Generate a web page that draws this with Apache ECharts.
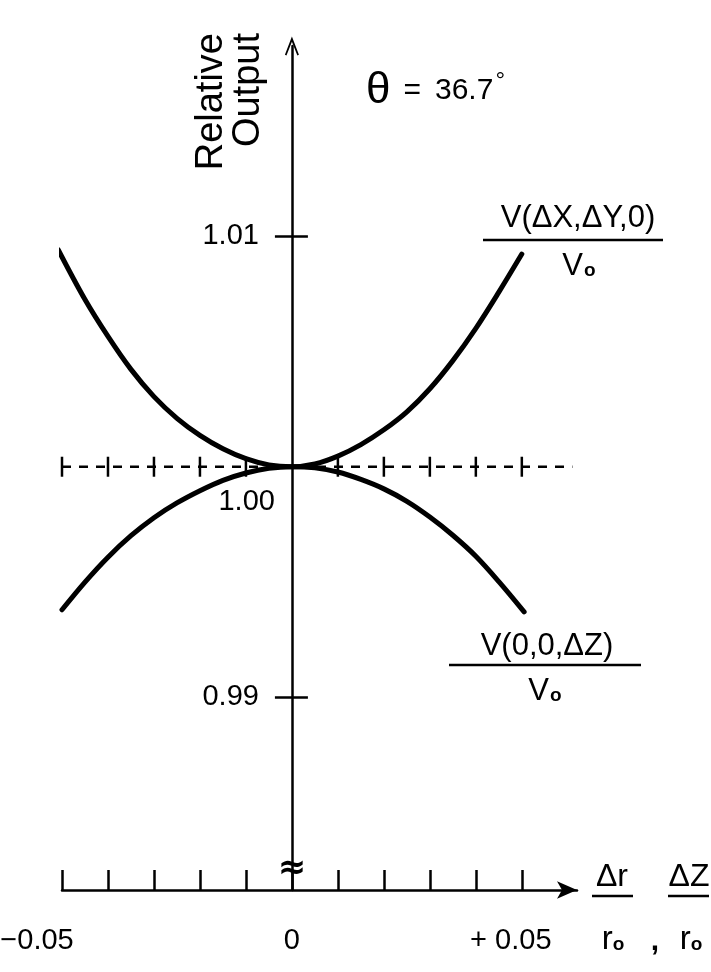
<!DOCTYPE html>
<html>
<head>
<meta charset="utf-8">
<script src="https://cdn.jsdelivr.net/npm/echarts@6/dist/echarts.min.js"></script>
<style>
  html, body { margin: 0; padding: 0; background: #fff; }
  #chart { width: 711px; height: 972px; }
</style>
</head>
<body>
<div id="chart"></div>
<script>
const FONT = '"Liberation Sans", "DejaVu Sans", sans-serif';

// Relative output V(ΔX,ΔY,0)/V0 against the radial offset Δr/r0
const radialOffset = [-0.0508, -0.045, -0.04, -0.035, -0.03, -0.025, -0.02, -0.015, -0.01, -0.005, 0,
                      0.005, 0.01, 0.015, 0.02, 0.025, 0.03, 0.035, 0.04, 0.045, 0.05];
const radialOutput = [1.0094, 1.00725, 1.00565, 1.00422, 1.00304, 1.0021, 1.00136, 1.00078, 1.00035, 1.00008, 1.0,
                      1.00012, 1.00046, 1.00096, 1.0016, 1.00238, 1.00338, 1.0046, 1.006, 1.00757, 1.00922];

// Relative output V(0,0,ΔZ)/V0 against the axial offset ΔZ/r0
const axialOffset = [-0.05, -0.045, -0.04, -0.035, -0.03, -0.025, -0.02, -0.015, -0.01, -0.005, 0,
                     0.005, 0.01, 0.015, 0.02, 0.025, 0.03, 0.035, 0.04, 0.045, 0.0505];
const axialOutput = [0.9938, 0.995, 0.99608, 0.99701, 0.99779, 0.99843, 0.99896, 0.99941, 0.99973, 0.99993, 1.0,
                     0.99995, 0.99977, 0.99945, 0.99904, 0.9985, 0.99782, 0.99703, 0.99612, 0.99502, 0.99371];

// Axis ticks and labels
const yTickValues = [0.99, 1.01];
const xTickValues = [-0.05, -0.04, -0.03, -0.02, -0.01, 0, 0.01, 0.02, 0.03, 0.04, 0.05];
const xLabelValues = [-0.05, 0, 0.05];
const xLabelText = { '-0.05': '{neg|−0.05}', '0': '{zero|0}', '0.05': '{pos|+ 0.05}' };

// Dashed reference level at 1.00 with its tick marks
const referenceLevel = 1.0;
const referenceSpan = [-0.05, 0.061];
const referenceTicks = [-0.05, -0.04, -0.03, -0.02, -0.01, 0.01, 0.02, 0.03, 0.04, 0.05];

const X_MIN = -0.05, X_MAX = 0.062;
const Y_MIN = 0.98165, Y_MAX = 1.01824;

// Plot box; the vertical axis sits where Δr/r0 = 0
const W = 711, H = 972;
const plot = { left: 62, right: 134, top: 46, bottom: 82 };
const plotWidth = W - plot.left - plot.right;
const zeroLeft = plot.left + (0 - X_MIN) / (X_MAX - X_MIN) * plotWidth;

const black = '#000';
const chart = echarts.init(document.getElementById('chart'), null, { renderer: 'canvas' });

const openArrow = 'path://M0,13 L5,0 L10,13 L8.9,13.6 L5,3.8 L1.1,13.6 Z';
const tickLine = { color: black, width: 2.5 };

const option = {
  backgroundColor: '#fff',
  animation: false,
  grid: [
    Object.assign({ containLabel: false, outerBoundsMode: 'none' }, plot),
    { left: zeroLeft, right: plot.right, top: plot.top, bottom: plot.bottom, containLabel: false, outerBoundsMode: 'none' }
  ],
  xAxis: [
    {
      gridIndex: 0, type: 'value', min: X_MIN, max: X_MAX,
      axisLine: { show: true, onZero: false, symbol: ['none', 'arrow'], symbolSize: [13, 20],
                  lineStyle: { color: black, width: 2.5 } },
      axisTick: { show: true, inside: true, length: 20, customValues: xTickValues, lineStyle: tickLine },
      axisLabel: {
        show: true, customValues: xLabelValues, margin: 36, hideOverlap: false,
        formatter: v => xLabelText[String(Math.round(v * 100) / 100)] || '',
        rich: {
          neg: { fontFamily: FONT, fontSize: 29, color: black, padding: [0, 50, 0, 0] },
          zero: { fontFamily: FONT, fontSize: 29, color: black },
          pos: { fontFamily: FONT, fontSize: 29, color: black, padding: [0, 22, 0, 0] }
        }
      },
      splitLine: { show: false }
    },
    { gridIndex: 1, type: 'value', min: 0, max: X_MAX, show: false }
  ],
  yAxis: [
    { gridIndex: 0, type: 'value', min: Y_MIN, max: Y_MAX, show: false },
    {
      gridIndex: 1, type: 'value', min: Y_MIN, max: Y_MAX, position: 'left',
      axisLine: { show: true, onZero: false, symbol: ['none', openArrow], symbolSize: [14, 24],
                  lineStyle: { color: black, width: 2.5 } },
      axisTick: { show: true, length: 17, customValues: yTickValues, lineStyle: tickLine },
      axisLabel: { show: true, customValues: yTickValues, margin: 33, hideOverlap: false,
                   formatter: v => v.toFixed(2),
                   fontFamily: FONT, fontSize: 29, color: black },
      splitLine: { show: false }
    },
    {
      gridIndex: 1, type: 'value', min: Y_MIN, max: Y_MAX, position: 'left',
      axisLine: { show: false, onZero: false },
      axisTick: { show: true, inside: true, length: 16, customValues: yTickValues, lineStyle: tickLine },
      axisLabel: { show: false },
      splitLine: { show: false }
    }
  ],
  series: [
    {
      name: 'V(ΔX,ΔY,0)/V0', type: 'line', smooth: 0.35, showSymbol: false, silent: true, z: 4,
      data: radialOffset.map((x, i) => [x, radialOutput[i]]),
      lineStyle: { color: black, width: 5, cap: 'round' }
    },
    {
      name: 'V(0,0,ΔZ)/V0', type: 'line', smooth: 0.35, showSymbol: false, silent: true, z: 4,
      data: axialOffset.map((x, i) => [x, axialOutput[i]]),
      lineStyle: { color: black, width: 5, cap: 'round' }
    },
    {
      name: 'reference', type: 'line', showSymbol: false, silent: true, z: 2,
      data: referenceSpan.map(x => [x, referenceLevel]),
      lineStyle: { color: black, width: 2.5, type: [9, 8] }
    },
    {
      name: 'reference ticks', type: 'scatter', silent: true, z: 3,
      symbol: 'rect', symbolSize: [2.5, 20],
      data: referenceTicks.map(x => [x, referenceLevel]),
      itemStyle: { color: black, opacity: 1 }
    },
    {
      name: 'reference label', type: 'scatter', silent: true, z: 5,
      symbolSize: 0,
      itemStyle: { opacity: 1 },
      data: [[0, referenceLevel]],
      label: { show: true, position: 'left', distance: 17, offset: [0, 35],
               formatter: () => referenceLevel.toFixed(2),
               fontFamily: FONT, fontSize: 29, color: black, opacity: 1 }
    }
  ],
  graphic: [
    // vertical axis title
    {
      type: 'text', x: 193, y: 33, rotation: Math.PI / 2,
      style: { text: 'Relative\nOutput', font: '38px ' + FONT, fill: black,
               textAlign: 'right', textVerticalAlign: 'top', lineHeight: 37 }
    },
    // angle annotation
    {
      type: 'text', x: 366, y: 91,
      style: {
        text: '{t|θ}{n|=}{m|36.7}{d|°}',
        textVerticalAlign: 'middle',
        rich: {
          t: { font: '44px ' + FONT, fill: black, padding: [0, 13, 0, 0] },
          n: { font: '30px ' + FONT, fill: black, padding: [0, 14, 0, 0] },
          m: { font: '30px ' + FONT, fill: black },
          d: { font: '24px ' + FONT, fill: black, verticalAlign: 'top', padding: [0, 0, 16, 2] }
        }
      }
    },
    // upper curve label
    { type: 'text', x: 578, y: 218,
      style: { text: 'V(ΔX,ΔY,0)', font: '31px ' + FONT, fill: black, textAlign: 'center', textVerticalAlign: 'middle' } },
    { type: 'line', shape: { x1: 483, y1: 240, x2: 663, y2: 240 }, style: { stroke: black, lineWidth: 2.5 } },
    { type: 'text', x: 579, y: 266,
      style: { text: '{v|V}{o|o}', textAlign: 'center', textVerticalAlign: 'middle',
               rich: { v: { font: '31px ' + FONT, fill: black }, o: { font: 'bold 19px ' + FONT, fill: black, padding: [10, 0, 0, 1] } } } },
    // lower curve label
    { type: 'text', x: 547, y: 646,
      style: { text: 'V(0,0,ΔZ)', font: '31px ' + FONT, fill: black, textAlign: 'center', textVerticalAlign: 'middle' } },
    { type: 'line', shape: { x1: 449, y1: 665, x2: 641, y2: 665 }, style: { stroke: black, lineWidth: 2.5 } },
    { type: 'text', x: 545, y: 691,
      style: { text: '{v|V}{o|o}', textAlign: 'center', textVerticalAlign: 'middle',
               rich: { v: { font: '31px ' + FONT, fill: black }, o: { font: 'bold 19px ' + FONT, fill: black, padding: [10, 0, 0, 1] } } } },
    // horizontal axis title: Δr/r0 , ΔZ/r0
    { type: 'text', x: 612, y: 877,
      style: { text: 'Δr', font: '32px ' + FONT, fill: black, textAlign: 'center', textVerticalAlign: 'middle' } },
    { type: 'line', shape: { x1: 592, y1: 896, x2: 633, y2: 896 }, style: { stroke: black, lineWidth: 2.5 } },
    { type: 'text', x: 613, y: 940,
      style: { text: '{v|r}{o|o}', textAlign: 'center', textVerticalAlign: 'middle',
               rich: { v: { font: '33px ' + FONT, fill: black }, o: { font: 'bold 19px ' + FONT, fill: black, padding: [10, 0, 0, 0] } } } },
    { type: 'text', x: 655, y: 942,
      style: { text: ',', font: 'bold 30px ' + FONT, fill: black, textAlign: 'center', textVerticalAlign: 'middle' } },
    { type: 'text', x: 689, y: 877,
      style: { text: 'ΔZ', font: '32px ' + FONT, fill: black, textAlign: 'center', textVerticalAlign: 'middle' } },
    { type: 'line', shape: { x1: 668, y1: 896, x2: 709, y2: 896 }, style: { stroke: black, lineWidth: 2.5 } },
    { type: 'text', x: 691, y: 940,
      style: { text: '{v|r}{o|o}', textAlign: 'center', textVerticalAlign: 'middle',
               rich: { v: { font: '33px ' + FONT, fill: black }, o: { font: 'bold 19px ' + FONT, fill: black, padding: [10, 0, 0, 0] } } } },
    // axis break mark on the vertical axis
    { type: 'text', x: zeroLeft, y: 869, z: 10,
      style: { text: '≈', font: 'bold 34px "DejaVu Sans", sans-serif', fill: black, textAlign: 'center', textVerticalAlign: 'middle' } }
  ]
};

chart.setOption(option);
</script>
</body>
</html>
